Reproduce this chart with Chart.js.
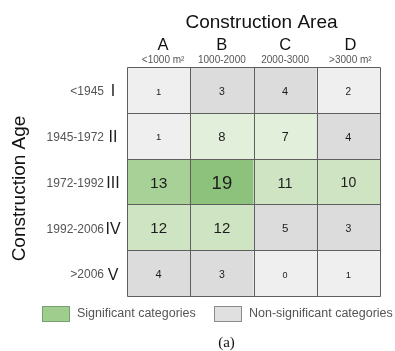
<!DOCTYPE html>
<html>
<head>
<meta charset="utf-8">
<script src="https://cdn.jsdelivr.net/npm/chart.js@4.4.1/dist/chart.umd.min.js"></script>
<style>
  html, body { margin: 0; padding: 0; background: #ffffff; }
  canvas { display: block; }
</style>
</head>
<body>
<canvas id="chart" width="395" height="351"></canvas>
<script>
// Construction area classes (columns)
const areaClasses = ['A', 'B', 'C', 'D'];
const areaRanges = ['<1000 m\u00B2', '1000-2000', '2000-3000', '>3000 m\u00B2'];

// Construction age classes (rows, top to bottom)
const ageClasses = ['I', 'II', 'III', 'IV', 'V'];
const ageRanges = ['<1945', '1945-1972', '1972-1992', '1992-2006', '>2006'];

// Building counts per age class, one value per area class
const countsI   = [1, 3, 4, 2];
const countsII  = [1, 8, 7, 4];
const countsIII = [13, 19, 11, 10];
const countsIV  = [12, 12, 5, 3];
const countsV   = [4, 3, 0, 1];

// Statistically significant cells per age class
const significantI   = [false, false, false, false];
const significantII  = [false, true, true, false];
const significantIII = [true, true, true, true];
const significantIV  = [true, true, false, false];
const significantV   = [false, false, false, false];

const counts = [countsI, countsII, countsIII, countsIV, countsV];
const significant = [significantI, significantII, significantIII, significantIV, significantV];

const FONT = '"Liberation Sans", Arial, Helvetica, sans-serif';
const SERIF = '"Liberation Serif", "Times New Roman", serif';

function cellColor(value, sig) {
  if (sig) {
    if (value >= 19) return '#8cc27b';
    if (value >= 13) return '#a8d198';
    if (value >= 10) return '#cfe4c3';
    return '#e2efda';
  }
  return value >= 3 ? '#dcdcdc' : '#efefef';
}

// Each age class is one stacked row of unit-height cells
const datasets = ageClasses.map((age, r) => ({
  label: age,
  data: areaClasses.map(() => 1),
  backgroundColor: counts[r].map((v, c) => cellColor(v, significant[r][c])),
  borderWidth: 0,
  barPercentage: 1,
  categoryPercentage: 1
}));

const tablePlugin = {
  id: 'tableDecor',
  afterDatasetsDraw(chart) {
    const ctx = chart.ctx;
    const xs = chart.scales.x;
    const ys = chart.scales.y;
    const area = chart.chartArea;

    const colCenter = c => xs.getPixelForValue(c);
    const colEdges = [area.left];
    for (let c = 1; c < areaClasses.length; c++) {
      colEdges.push((colCenter(c - 1) + colCenter(c)) / 2);
    }
    colEdges.push(area.right);
    const rowEdges = ageClasses.map((_, r) => ys.getPixelForValue(r));
    rowEdges.push(ys.getPixelForValue(ageClasses.length));
    const rowCenter = r => (rowEdges[r] + rowEdges[r + 1]) / 2;

    ctx.save();

    // cell grid
    ctx.strokeStyle = '#5f5f5f';
    ctx.lineWidth = 1;
    ctx.beginPath();
    colEdges.forEach(x => {
      const px = Math.round(x) + 0.5;
      ctx.moveTo(px, Math.round(area.top) + 0.5);
      ctx.lineTo(px, Math.round(area.bottom) + 0.5);
    });
    rowEdges.forEach(y => {
      const py = Math.round(y) + 0.5;
      ctx.moveTo(Math.round(area.left) + 0.5, py);
      ctx.lineTo(Math.round(area.right) + 0.5, py);
    });
    ctx.stroke();

    // counts inside cells
    ctx.fillStyle = '#1c1c1c';
    ctx.textAlign = 'center';
    ctx.textBaseline = 'middle';
    counts.forEach((row, r) => {
      row.forEach((v, c) => {
        const size = 9 + 0.5 * v;
        ctx.font = size + 'px ' + FONT;
        ctx.fillText(String(v), (colEdges[c] + colEdges[c + 1]) / 2, rowCenter(r) + 2);
      });
    });

    // header: title, class letters, area ranges
    ctx.fillStyle = '#111111';
    ctx.textBaseline = 'alphabetic';
    ctx.font = '19px ' + FONT;
    ctx.fillText('Construction Area', (area.left + area.right) / 2 + 8, 27.5);

    const headerNudge = [4.5, 0, 0, 2];
    areaClasses.forEach((name, c) => {
      const cx = (colEdges[c] + colEdges[c + 1]) / 2 + headerNudge[c];
      ctx.fillStyle = '#111111';
      ctx.font = '16.5px ' + FONT;
      ctx.fillText(name, cx, 50);
      ctx.fillStyle = '#555555';
      ctx.font = '10px ' + FONT;
      ctx.fillText(areaRanges[c], cx, 63);
    });

    // row labels: year range + roman numeral
    ageClasses.forEach((name, r) => {
      const cy = rowCenter(r) + 2;
      ctx.textBaseline = 'middle';
      ctx.textAlign = 'right';
      ctx.fillStyle = '#555555';
      ctx.font = '12px ' + FONT;
      ctx.fillText(ageRanges[r], area.left - 23, cy);
      ctx.textAlign = 'center';
      ctx.fillStyle = '#1c1c1c';
      ctx.font = '16px ' + FONT;
      ctx.fillText(name, area.left - 14, cy);
    });

    // vertical axis title
    ctx.save();
    ctx.translate(20, 188.5);
    ctx.rotate(-Math.PI / 2);
    ctx.textAlign = 'center';
    ctx.textBaseline = 'middle';
    ctx.fillStyle = '#111111';
    ctx.font = '19px ' + FONT;
    ctx.fillText('Construction Age', 0, 0);
    ctx.restore();

    // legend
    const legendItems = [
      { text: 'Significant categories', fill: '#9fcd8d', stroke: '#7a9f6e', x: 42 },
      { text: 'Non-significant categories', fill: '#e0e0e0', stroke: '#8a8a8a', x: 214 }
    ];
    legendItems.forEach(item => {
      ctx.fillStyle = item.fill;
      ctx.fillRect(item.x, 306, 27, 15);
      ctx.strokeStyle = item.stroke;
      ctx.lineWidth = 1;
      ctx.strokeRect(item.x + 0.5, 306.5, 27, 15);
      ctx.fillStyle = '#555555';
      ctx.font = '12.5px ' + FONT;
      ctx.textAlign = 'left';
      ctx.textBaseline = 'middle';
      ctx.fillText(item.text, item.x + 35, 314);
    });

    // panel caption
    ctx.fillStyle = '#111111';
    ctx.font = '15px ' + SERIF;
    ctx.textAlign = 'center';
    ctx.textBaseline = 'alphabetic';
    ctx.fillText('(a)', 226.5, 347);

    ctx.restore();
  }
};

new Chart(document.getElementById('chart'), {
  type: 'bar',
  data: { labels: areaClasses, datasets },
  options: {
    responsive: false,
    animation: false,
    devicePixelRatio: 1,
    layout: { padding: { left: 127, right: 15, top: 67, bottom: 55 } },
    scales: {
      x: { type: 'category', stacked: true, display: false, offset: true },
      y: { type: 'linear', stacked: true, display: false, min: 0, max: ageClasses.length, reverse: true }
    },
    plugins: {
      legend: { display: false },
      tooltip: { enabled: false }
    }
  },
  plugins: [tablePlugin]
});
</script>
</body>
</html>
